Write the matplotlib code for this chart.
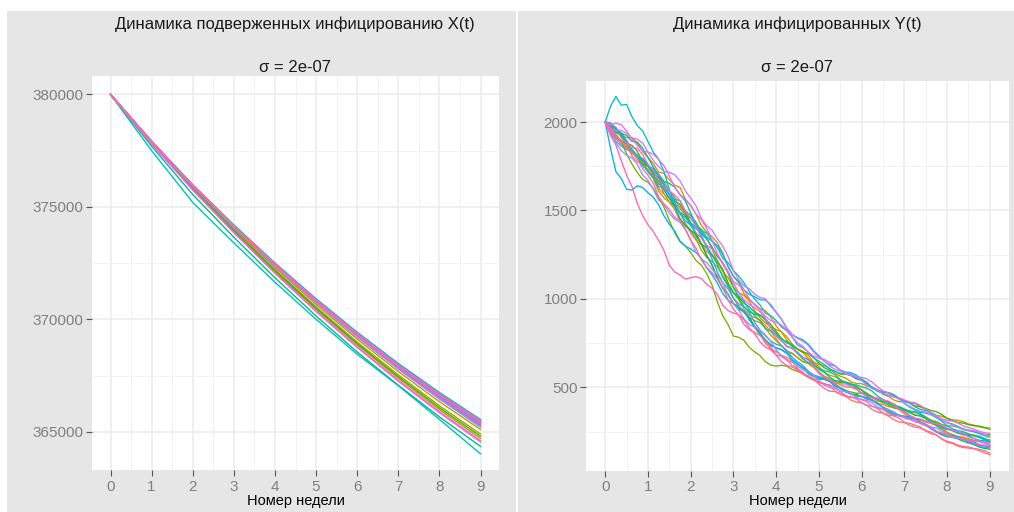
import numpy as np
import matplotlib
matplotlib.use("Agg")
import matplotlib.pyplot as plt
from matplotlib.patches import Rectangle
from matplotlib.ticker import FixedLocator

plt.rcParams['font.family'] = ['Liberation Sans', 'DejaVu Sans']

# ---------------- data ----------------
# X(t): one value per week; Y(t): one value per 1/8 week (0 .. 9)
weeks_x = [0, 1, 2, 3, 4, 5, 6, 7, 8, 9]

x01 = [380000, 377880, 375910, 374090, 372360, 370740, 369220, 367800, 366470, 365250]
x02 = [380000, 377890, 375940, 374130, 372420, 370820, 369310, 367910, 366600, 365400]
x03 = [380000, 377840, 375800, 373920, 372130, 370450, 368870, 367380, 365990, 364700]
x04 = [380000, 377870, 375880, 374040, 372300, 370660, 369120, 367680, 366340, 365100]
x05 = [380000, 377850, 375840, 373980, 372210, 370550, 368990, 367530, 366160, 364900]
x06 = [380000, 377890, 375930, 374120, 372410, 370800, 369290, 367880, 366570, 365350]
x07 = [380000, 377840, 375820, 373950, 372170, 370500, 368920, 367450, 366070, 364800]
x08 = [380000, 377920, 375960, 374160, 372460, 370850, 369350, 367950, 366650, 365450]
x09 = [380000, 377700, 375550, 373650, 371850, 370150, 368550, 367070, 365660, 364350]
x10 = [380000, 377910, 375960, 374170, 372470, 370880, 369380, 367990, 366700, 365500]
x11 = [380000, 377500, 375200, 373400, 371650, 370000, 368450, 367050, 365550, 364020]
x12 = [380000, 377930, 375990, 374200, 372510, 370920, 369430, 368040, 366750, 365550]
x13 = [380000, 377900, 375940, 374140, 372430, 370830, 369320, 367910, 366610, 365400]
x14 = [380000, 377890, 375930, 374120, 372400, 370790, 369270, 367850, 366530, 365300]
x15 = [380000, 377880, 375920, 374100, 372370, 370750, 369220, 367790, 366460, 365200]
x16 = [380000, 377810, 375760, 373870, 372070, 370380, 368790, 367290, 365900, 364600]
x17 = [380000, 377910, 375950, 374150, 372450, 370860, 369360, 367960, 366660, 365450]
x18 = [380000, 377800, 375750, 373850, 372050, 370350, 368750, 367250, 365850, 364550]
x19 = [380000, 377900, 375940, 374130, 372420, 370810, 369300, 367890, 366580, 365350]
x20 = [380000, 377910, 375960, 374160, 372470, 370870, 369370, 367980, 366690, 365500]

y01 = [2000,1990,1956,1918,1872,1809,1776,1761,1730,1694,1669,1595,1548,1505,1441,1424,1374,1332,1305,1251,1187,1114,1065,1028,973,941,929,888,835,800,748,718,702,681,670,647,608,576,556,545,525,523,509,480,464,451,428,417,413,398,393,379,353,339,317,304,301,297,287,275,253,238,231,208,190,183,168,160,157,153,143,130,120]
y02 = [2000,1945,1910,1899,1860,1844,1815,1761,1730,1693,1625,1592,1569,1533,1523,1479,1416,1374,1310,1269,1244,1208,1160,1088,1035,996,940,909,895,880,850,818,775,733,707,694,668,645,635,613,581,556,538,533,515,503,501,489,467,450,425,409,403,391,387,374,351,334,322,317,303,296,283,259,242,234,220,211,207,199,195,187,173]
y03 = [2000,1959,1941,1923,1912,1912,1881,1833,1800,1765,1717,1710,1674,1643,1631,1564,1528,1480,1415,1378,1351,1318,1260,1185,1128,1089,1029,994,970,944,934,898,847,812,767,734,716,705,681,645,616,586,568,561,539,526,522,508,485,468,441,423,416,401,394,383,362,342,327,314,311,304,289,271,247,231,223,219,209,200,196,187,173]
y04 = [2000,1994,1967,1912,1884,1837,1802,1793,1760,1718,1706,1664,1611,1574,1510,1475,1458,1416,1395,1347,1282,1212,1154,1120,1066,1035,1020,986,933,892,865,841,826,814,786,745,716,697,663,642,630,623,607,579,563,553,532,522,521,507,501,486,460,449,429,419,418,416,408,389,377,356,341,337,325,317,314,307,293,287,277,271,270]
y05 = [2000,1962,1908,1876,1856,1821,1813,1777,1720,1681,1609,1571,1548,1523,1488,1426,1388,1341,1275,1234,1212,1179,1133,1077,1004,956,921,894,877,865,836,794,764,737,701,691,668,646,638,618,588,564,548,533,527,528,516,505,485,459,443,435,421,419,407,386,373,356,345,340,326,314,307,291,268,255,246,243,234,231,224,211,203]
y06 = [2000,1953,1930,1890,1820,1763,1715,1675,1660,1625,1572,1519,1443,1375,1323,1299,1262,1217,1191,1143,1079,983,905,855,790,783,765,725,700,679,645,626,620,625,620,601,590,580,558,547,546,545,533,521,500,482,474,467,467,464,450,429,413,402,383,381,373,362,359,350,334,314,299,289,283,282,274,262,255,249,239,234,233]
y07 = [2000,1972,1915,1890,1880,1868,1835,1778,1750,1706,1650,1632,1590,1553,1535,1491,1430,1356,1310,1289,1250,1214,1168,1091,1035,1002,955,927,914,906,885,856,816,778,751,741,716,699,692,669,637,611,596,591,575,575,567,548,539,522,496,481,472,471,459,439,426,413,394,392,381,369,363,347,325,311,302,298,289,283,281,274,263]
y08 = [2000,1969,1966,1937,1892,1837,1801,1791,1750,1712,1685,1615,1569,1522,1454,1413,1388,1364,1311,1243,1193,1121,1058,1027,973,944,929,895,844,801,769,741,723,714,693,656,632,613,583,564,553,550,534,509,494,474,462,461,449,434,427,409,385,362,349,345,333,323,319,298,284,269,248,232,221,218,209,196,186,177,163,155,150]
y09 = [2000,1983,1942,1937,1924,1891,1887,1852,1800,1745,1702,1664,1653,1632,1590,1554,1486,1420,1370,1337,1294,1238,1205,1145,1066,1011,975,955,923,910,880,836,806,765,734,721,692,669,657,634,602,586,558,539,533,531,519,498,485,459,443,438,420,417,405,383,370,359,342,338,323,307,298,278,263,256,241,232,228,226,217,204,195]
y10 = [2000,1968,1955,1932,1880,1844,1795,1761,1750,1738,1695,1638,1590,1527,1490,1469,1430,1406,1360,1297,1250,1193,1123,1069,1035,1018,985,936,905,875,830,818,795,769,759,732,692,660,641,630,609,594,587,572,545,525,514,514,503,495,478,450,432,410,395,392,378,367,362,348,326,309,285,270,263,259,249,234,224,211,201,198,188]
y11 = [2000,2090,2145,2095,2100,2030,1980,1950,1890,1830,1790,1720,1620,1540,1480,1460,1420,1395,1390,1370,1330,1290,1230,1205,1160,1130,1090,1040,998,965,920,905,878,842,820,785,740,725,700,668,648,630,605,590,580,578,570,552,543,525,500,484,476,470,455,435,423,410,390,376,369,358,340,318,301,293,280,265,257,251,240,227,218]
y12 = [2000,1934,1892,1864,1844,1838,1802,1753,1720,1684,1635,1627,1590,1563,1556,1498,1472,1434,1379,1348,1326,1301,1252,1181,1128,1099,1050,1025,1012,995,994,967,925,884,833,799,781,769,745,708,679,648,629,621,598,586,583,570,548,528,498,477,468,455,449,435,410,388,372,358,354,346,329,309,283,266,256,250,238,227,222,211,195]
y13 = [2000,1850,1720,1680,1620,1615,1640,1630,1600,1575,1531,1470,1422,1384,1327,1298,1283,1262,1230,1175,1136,1090,1030,992,973,958,929,880,844,810,764,736,723,712,693,657,632,610,578,561,553,547,534,509,494,481,462,452,449,443,429,405,388,374,353,342,338,334,325,305,292,275,252,239,232,229,221,207,199,191,177,169,165]
y14 = [2000,1994,1968,1918,1896,1844,1803,1794,1760,1715,1700,1650,1590,1550,1483,1441,1416,1370,1346,1294,1225,1152,1090,1057,1004,972,956,921,867,822,791,763,744,735,709,671,644,625,592,571,560,554,539,512,497,485,463,451,449,435,428,413,387,373,351,338,335,329,317,299,288,265,247,241,226,217,214,206,192,183,170,161,158]
y15 = [2000,1955,1881,1839,1812,1797,1761,1701,1670,1620,1558,1534,1485,1450,1434,1391,1332,1265,1225,1206,1168,1135,1091,1021,973,937,886,855,839,824,796,760,713,677,652,643,620,600,590,569,539,513,499,494,479,476,465,443,431,417,394,382,376,375,363,343,330,320,304,300,288,276,270,254,232,219,212,209,202,196,193,185,173]
y16 = [2000,1963,1953,1953,1936,1910,1903,1882,1830,1783,1748,1720,1716,1702,1668,1611,1570,1527,1455,1413,1389,1339,1299,1240,1159,1109,1073,1058,1026,1008,1001,958,925,887,836,799,776,762,738,700,669,651,621,602,593,581,576,563,539,512,492,482,465,452,449,435,413,392,377,365,361,354,340,317,299,290,274,265,259,255,247,234,225]
y17 = [2000,1985,1994,1986,1948,1904,1869,1837,1830,1818,1788,1753,1695,1633,1587,1564,1528,1479,1450,1399,1332,1255,1195,1153,1097,1079,1051,1000,965,940,902,878,868,852,825,785,752,732,699,677,665,658,641,623,596,577,567,558,557,548,529,502,481,467,445,440,429,417,413,398,377,354,336,323,314,310,299,283,273,265,252,244,240]
y18 = [2000,1967,1917,1895,1884,1854,1852,1816,1760,1729,1666,1631,1611,1588,1555,1495,1458,1411,1345,1304,1282,1250,1206,1156,1090,1036,995,968,950,928,890,834,790,764,730,721,700,671,655,623,580,556,540,525,520,519,505,492,470,450,440,438,430,423,405,379,360,340,325,322,310,300,295,286,270,258,250,238,220,211,197,188,185]
y19 = [2000,1923,1870,1781,1700,1635,1540,1472,1420,1381,1330,1274,1190,1153,1135,1112,1120,1126,1115,1083,1060,1025,965,934,920,911,881,836,802,757,727,712,683,676,658,623,603,586,557,541,532,517,514,502,476,455,443,441,431,427,413,388,375,354,341,340,328,319,316,296,285,272,251,243,228,219,217,210,197,184,176,173,165]
y20 = [2000,1942,1904,1890,1848,1827,1794,1735,1700,1654,1578,1537,1506,1462,1444,1397,1332,1287,1220,1177,1149,1113,1065,994,942,907,856,825,811,793,761,727,682,645,624,616,596,575,567,548,518,495,479,476,461,449,447,435,413,398,374,360,355,343,339,326,303,286,275,270,257,247,231,209,195,188,174,166,163,155,150,142,128]

x_paths = [x01, x02, x03, x04, x05, x06, x07, x08, x09, x10,
           x11, x12, x13, x14, x15, x16, x17, x18, x19, x20]
y_paths = [y01, y02, y03, y04, y05, y06, y07, y08, y09, y10,
           y11, y12, y13, y14, y15, y16, y17, y18, y19, y20]

x_ticks = [0, 1, 2, 3, 4, 5, 6, 7, 8, 9]
left_yticks = [365000, 370000, 375000, 380000]
right_yticks = [500, 1000, 1500, 2000]

title_left = "Динамика подверженных инфицированию X(t)"
title_right = "Динамика инфицированных Y(t)"
subtitle = "σ = 2e-07"
xlabel = "Номер недели"


# ---------------- colours (ggplot hue palette) ----------------
def hcl_hex(h, c=100.0, l=65.0):
    hr = np.deg2rad(h)
    U, V = c * np.cos(hr), c * np.sin(hr)
    Xn, Yn, Zn = 95.047, 100.0, 108.883
    den = Xn + 15 * Yn + 3 * Zn
    un, vn = 4 * Xn / den, 9 * Yn / den
    Y = Yn * ((l + 16) / 116) ** 3
    u = U / (13 * l) + un
    v = V / (13 * l) + vn
    X = Y * 9 * u / (4 * v)
    Z = Y * (12 - 3 * u - 20 * v) / (4 * v)
    M = np.array([[3.2404542, -1.5371385, -0.4985314],
                  [-0.9692660, 1.8760108, 0.0415560],
                  [0.0556434, -0.2040259, 1.0572252]])
    rgb = M @ (np.array([X, Y, Z]) / 100.0)
    out = []
    for ch in rgb:
        ch = 12.92 * ch if ch <= 0.0031308 else 1.055 * ch ** (1 / 2.4) - 0.055
        out.append(min(max(ch, 0), 1))
    return tuple(out)


n = len(x_paths)
hues = np.linspace(15, 375, n + 1)[:-1]
colors = [hcl_hex(h) for h in hues]

# ---------------- figure ----------------
W, H = 1014, 512
fig = plt.figure(figsize=(W / 100, H / 100), dpi=100)
fig.patch.set_facecolor('white')

GREY = '#E6E6E6'
fig.patches.append(Rectangle((7 / W, 0), (516 - 7) / W, (H - 11) / H,
                             transform=fig.transFigure, facecolor=GREY,
                             edgecolor='none', zorder=-10))
fig.patches.append(Rectangle((518 / W, 0), (W - 518) / W, (H - 11) / H,
                             transform=fig.transFigure, facecolor=GREY,
                             edgecolor='none', zorder=-10))


def px_axes(x0, y0, x1, y1):
    return fig.add_axes([x0 / W, (H - y1) / H, (x1 - x0) / W, (y1 - y0) / H])


def style(ax, yticks, yminor, ylim):
    ax.set_facecolor('white')
    ax.set_xlim(-0.45, 9.45)
    ax.set_ylim(*ylim)
    ax.xaxis.set_major_locator(FixedLocator(x_ticks))
    ax.xaxis.set_minor_locator(FixedLocator([v + 0.5 for v in x_ticks[:-1]]))
    ax.yaxis.set_major_locator(FixedLocator(yticks))
    ax.yaxis.set_minor_locator(FixedLocator(yminor))
    ax.grid(which='major', color='#EBEBEB', lw=1.1, zorder=0)
    ax.grid(which='minor', color='#F2F2F2', lw=0.7, zorder=0)
    ax.set_axisbelow(True)
    for s in ax.spines.values():
        s.set_visible(False)
    ax.tick_params(which='major', length=4, width=0.8, color='#555555',
                   labelcolor='#808080', labelsize=11, pad=2)
    ax.tick_params(axis='x', which='major', pad=3)
    ax.tick_params(which='minor', length=0)
    ax.set_xlabel(xlabel, fontsize=10.5, color='black', labelpad=0)


# left panel
axL = px_axes(92, 76, 499, 470)
for i, (path, col) in enumerate(zip(x_paths, colors)):
    axL.plot(weeks_x, path, color=col, lw=1.0, zorder=2 + i * 0.01)
style(axL, left_yticks, [367500, 372500, 377500], (363300, 380820))
axL.set_yticklabels([str(v) for v in left_yticks])

# right panel
axR = px_axes(586, 81, 1009, 470.5)
for i, (path, col) in enumerate(zip(y_paths, colors)):
    t = np.linspace(0, 9, len(path))
    axR.plot(t, path, color=col, lw=0.95, zorder=2 + i * 0.01)
style(axR, right_yticks, [250, 750, 1250, 1750], (30, 2232))

# titles
fig.text(295 / W, 1 - 24 / H, title_left, ha='center', va='center',
         fontsize=12, color='#1A1A1A')
fig.text(295 / W, 1 - 68 / H, subtitle, ha='center', va='center',
         fontsize=12, color='#1A1A1A')
fig.text(797 / W, 1 - 24 / H, title_right, ha='center', va='center',
         fontsize=12, color='#1A1A1A')
fig.text(797 / W, 1 - 68 / H, subtitle, ha='center', va='center',
         fontsize=12, color='#1A1A1A')

fig.savefig('out.png', dpi=100, facecolor='white')
